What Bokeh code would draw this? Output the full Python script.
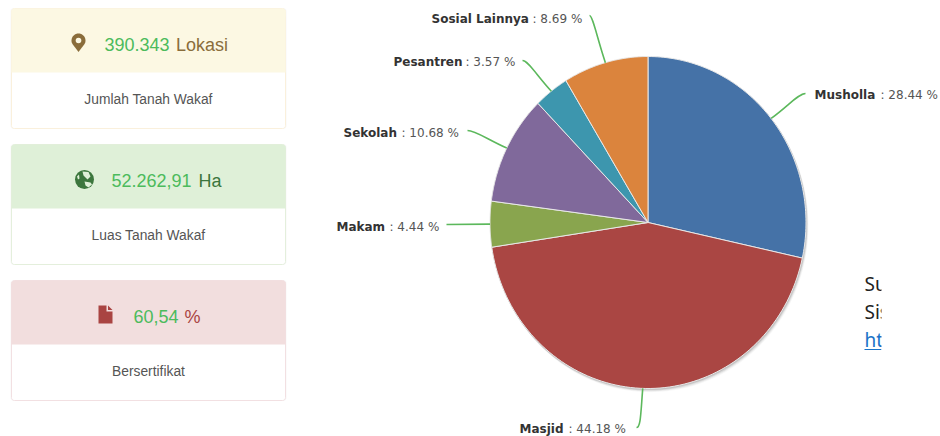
import numpy as np
from bokeh.plotting import figure
from bokeh.embed import file_html
from bokeh.resources import INLINE
from bokeh.core.properties import value

# data
categories = ["Musholla", "Masjid", "Makam", "Sekolah", "Pesantren", "Sosial Lainnya"]
shares = [28.44, 44.18, 4.44, 10.68, 3.57, 8.69]
colors = ["#4572A7", "#AA4643", "#89A54E", "#80699B", "#3D96AE", "#DB843D"]

card_numbers = ["390.343", "52.262,91", "60,54"]
card_units = ["Lokasi", "Ha", "%"]
card_titles = ["Jumlah Tanah Wakaf", "Luas Tanah Wakaf", "Bersertifikat"]

# layout
W, H = 940, 436
CX, CY, RX, RY = 647.5, 222, 158, 166
head_fill = ["#fcf8e3", "#dff0d8", "#f2dede"]
head_ink = ["#8a6d3b", "#3c763d", "#a94442"]
edge = ["#faf0dc", "#e4efdc", "#f2e0e2"]
card_top = [8, 144, 280]
num_x = [104, 111, 133]
unit_x = [175.5, 198, 184]
title_cx = 148
label_anchor = [(805, 93), (636, 427), (446, 224), (467, 130), (522, 60), (589, 15)]
label_x = [814, 519, 336, 343, 393, 431]
colon_x = [880, 568, 389, 401, 465, 532]
label_y = [94, 428, 226, 132, 61, 18]

p = figure(width=W, height=H, x_range=(0, W), y_range=(H, 0),
           output_backend="svg", toolbar_location=None, min_border=0,
           outline_line_color=None, background_fill_color="white", border_fill_color="white")
p.axis.visible = False
p.grid.visible = False


def rounded(x0, y0, x1, y1, r=3):
    xs, ys = [], []
    for cx, cy, a0 in [(x1 - r, y0 + r, -90), (x1 - r, y1 - r, 0), (x0 + r, y1 - r, 90), (x0 + r, y0 + r, 180)]:
        t = np.radians(np.linspace(a0, a0 + 90, 5))
        xs += list(cx + r * np.cos(t))
        ys += list(cy + r * np.sin(t))
    return xs, ys


# cards
for i, top in enumerate(card_top):
    xs, ys = rounded(10, top - 0.5, 286, top + 120.5)
    p.patch(xs, ys, fill_color="#000000", fill_alpha=0.03, line_color=None)
    xs, ys = rounded(11, top, 285, top + 120)
    p.patch(xs, ys, fill_color="white", line_color=edge[i], line_width=1)
    hx = [11, 11, 285, 285]
    hy = [top + 64, top + 3, top + 3, top + 64]
    xs, ys = rounded(11, top, 285, top + 10)
    p.patch(xs, ys, fill_color=head_fill[i], line_color=None)
    p.patch(hx, hy, fill_color=head_fill[i], line_color=None)

    mid = top + 36
    p.text([num_x[i]], [mid], text=[card_numbers[i]], text_font=value("Liberation Sans"),
           text_font_size="18px", text_color="#4cbb5c", text_baseline="middle")
    p.text([unit_x[i]], [mid], text=[card_units[i]], text_font=value("Liberation Sans"),
           text_font_size="18px", text_color=head_ink[i], text_baseline="middle")
    p.text([title_cx], [top + 91], text=[card_titles[i]], text_font=value("Liberation Sans"),
           text_font_size="13.8px", text_color="#555555", text_align="center", text_baseline="middle")

# marker icon
t = np.radians(np.linspace(150, 390, 40))
mx = [78 + 7 * np.cos(a) for a in t] + [78]
my = [40 + 7 * np.sin(a) for a in t] + [51.5]
p.patch(mx, my, fill_color=head_ink[0], line_color=None)
p.circle([78], [40], radius=2.8, fill_color=head_fill[0], line_color=None)

# globe icon
p.circle([84], [179], radius=9.5, fill_color=head_ink[1], line_color=None)
p.patch([82, 88, 90, 87, 85, 83], [171, 171.5, 176, 179, 177, 175], fill_color=head_fill[1], line_color=None)
p.patch([84, 90, 91.5, 88, 85], [181, 182, 184, 187, 185], fill_color=head_fill[1], line_color=None)
p.patch([76.5, 78.5, 79, 77.5], [176, 174, 178, 179], fill_color=head_fill[1], line_color=None)

# file icon
p.patch([98, 106, 106, 112, 112, 98], [305, 305, 311, 311, 323, 323], fill_color=head_ink[2], line_color=None)
p.patch([107.5, 112, 107.5], [305, 309.5, 309.5], fill_color=head_ink[2], line_color=None)

# pie
shares_arr = np.array(shares)
edges = np.concatenate([[0], np.cumsum(shares_arr)]) / shares_arr.sum() * 2 * np.pi
full = np.linspace(0, 2 * np.pi, 180)
for d, a in [(4, 0.03), (3, 0.05), (2, 0.08), (1, 0.10)]:
    p.patch(CX + d * 0.5 + (RX + 0.5) * np.sin(full), CY + d * 0.8 + (RY + 0.5) * np.cos(full),
            fill_color="#000000", fill_alpha=a, line_color=None)
for i in range(len(shares)):
    t = np.linspace(edges[i], edges[i + 1], 90)
    xs = np.concatenate([[CX], CX + RX * np.sin(t)])
    ys = np.concatenate([[CY], CY - RY * np.cos(t)])
    p.patch(xs, ys, fill_color=colors[i], line_color="#e8e8e8", line_width=1, line_join="round")

# leader lines & labels
for i in range(len(shares)):
    mid = (edges[i] + edges[i + 1]) / 2
    x0, y0 = CX + RX * np.sin(mid), CY - RY * np.cos(mid)
    x1, y1 = label_anchor[i]
    if abs(y1 - y0) < 4:
        cx0, cy0, cx1, cy1 = x0, y0, x1, y1
    else:
        cx0, cy0 = x0 + (x1 - x0) * 0.5 * (abs(x1 - x0) > 12), y0 + (y1 - y0) * 0.5
        cx1, cy1 = x1 + (x0 - x1) * 0.2, y1
        if i == 1:
            cx0, cy0, cx1, cy1 = x0 - 2, y0 + 25, x0 - 2, y1
    p.bezier([x0], [y0], [x1], [y1], [cx0], [cy0], [cx1], [cy1], line_color="#5cb85c", line_width=1.6)
    p.text([label_x[i]], [label_y[i]], text=[categories[i]], text_font=value("DejaVu Sans"), text_font_style="bold",
           text_font_size="12px", text_color="#333333", text_baseline="middle")
    p.text([colon_x[i]], [label_y[i]], text=[f": {shares[i]:.2f} %"], text_font=value("DejaVu Sans"),
           text_font_size="12px", text_color="#555555", text_baseline="middle")

# cut-off note on the right
p.text([864, 864], [283, 311], text=["Su", "Sis"], text_font=value("Noto Sans"), text_font_size="19px",
       text_color="#222222", text_baseline="middle")
p.text([864], [339], text=["htt"], text_font=value("Noto Sans"), text_font_size="19px",
       text_color="#1a73c8", text_baseline="middle")
p.line([864, 881], [349, 349], line_color="#1a73c8", line_width=1)
p.quad(left=[881], right=[905], top=[270], bottom=[352], fill_color="white", line_color=None)

open("out.html", "w").write(file_html(p, INLINE))
